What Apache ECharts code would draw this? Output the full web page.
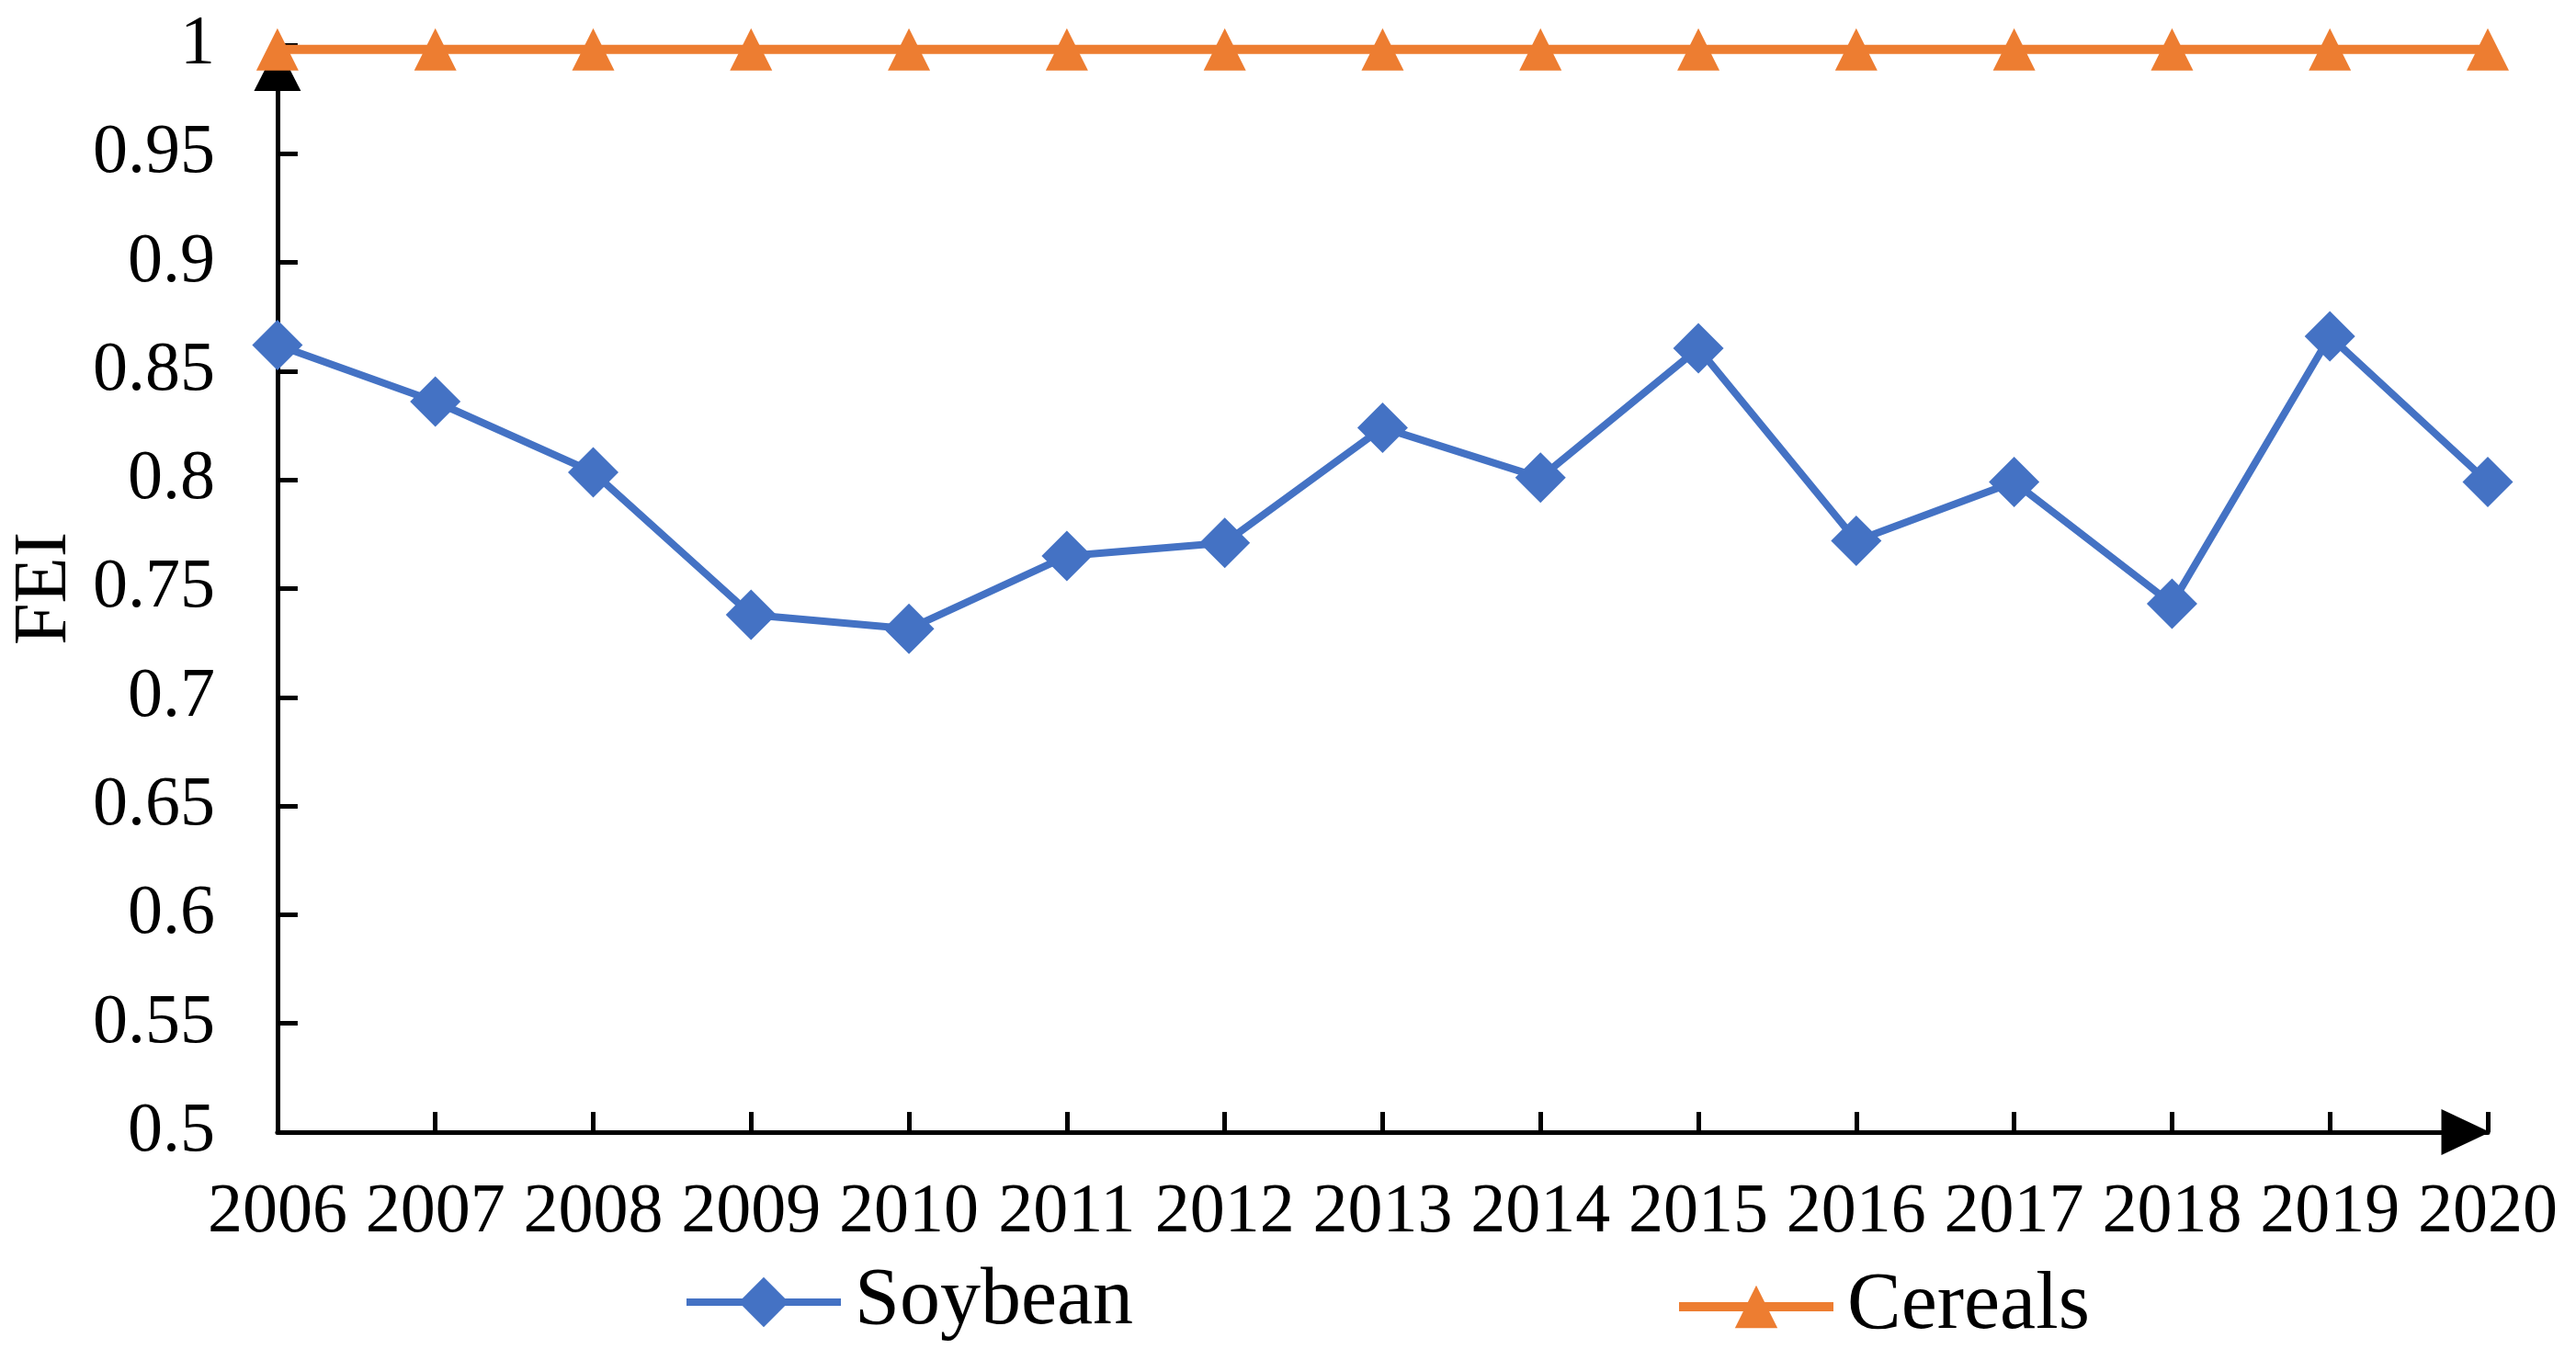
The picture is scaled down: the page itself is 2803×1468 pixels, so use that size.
<!DOCTYPE html>
<html>
<head>
<meta charset="utf-8">
<script src="https://cdn.jsdelivr.net/npm/echarts@6/dist/echarts.min.js"></script>
<style>
html,body{margin:0;padding:0;background:#fff;}
#chart{width:2803px;height:1468px;}
</style>
</head>
<body>
<div id="chart"></div>
<script>
const years = ['2006','2007','2008','2009','2010','2011','2012','2013','2014','2015','2016','2017','2018','2019','2020'];
const soybean = [0.862, 0.836, 0.8035, 0.738, 0.7315, 0.765, 0.771, 0.824, 0.801, 0.8605, 0.772, 0.799, 0.743, 0.866, 0.799];
const cereals = [0.998, 0.998, 0.998, 0.998, 0.998, 0.998, 0.998, 0.998, 0.998, 0.998, 0.998, 0.998, 0.998, 0.998, 0.998];
const seriesNames = ['Soybean', 'Cereals'];
const yMin = 0.5, yMax = 1, yStep = 0.05;
const yTitle = 'FEI';

const FONT = '"Liberation Serif", "Times New Roman", serif';
const chart = echarts.init(document.getElementById('chart'), null, {renderer: 'canvas'});
const axisLine = {
  show: true,
  lineStyle: {color: '#000', width: 5}
};
chart.setOption({
  animation: false,
  backgroundColor: '#fff',
  grid: {left: 287, right: 96, top: 49, bottom: 236, containLabel: false},
  legend: [
    {
      data: [seriesNames[0]],
      left: 738, top: 1368,
      itemWidth: 168, itemHeight: 68,
      lineStyle: {width: 8},
      textStyle: {fontFamily: FONT, fontSize: 88, color: '#000', padding: [0, 0, 0, 10]}
    },
    {
      data: [seriesNames[1]],
      left: 1817, top: 1373,
      itemWidth: 168, itemHeight: 58,
      lineStyle: {width: 10},
      textStyle: {fontFamily: FONT, fontSize: 88, color: '#000', padding: [0, 0, 0, 10]}
    }
  ],
  xAxis: {
    type: 'category',
    data: years,
    boundaryGap: false,
    axisLine: Object.assign({}, axisLine, {symbol: ['none', 'triangle'], symbolSize: [50, 53], symbolOffset: [0, -24]}),
    axisTick: {show: true, inside: true, length: 22, lineStyle: {color: '#000', width: 5}},
    axisLabel: {fontFamily: FONT, fontSize: 76, color: '#000', margin: 50, interval: 0},
    splitLine: {show: false}
  },
  yAxis: {
    type: 'value',
    min: yMin, max: yMax, interval: yStep,
    name: yTitle,
    nameLocation: 'middle',
    nameRotate: 90,
    nameGap: 206,
    nameTextStyle: {fontFamily: FONT, fontSize: 82, color: '#000'},
    axisLine: Object.assign({}, axisLine, {symbol: ['none', 'triangle'], symbolSize: [51, 50], symbolOffset: [0, -25]}),
    axisTick: {show: true, inside: true, length: 22, lineStyle: {color: '#000', width: 5}},
    axisLabel: {fontFamily: FONT, fontSize: 76, color: '#000', margin: 68},
    splitLine: {show: false}
  },
  series: [
    {
      name: seriesNames[0],
      type: 'line',
      data: soybean,
      symbol: 'diamond',
      symbolSize: 55,
      showAllSymbol: true,
      color: '#4472C4',
      lineStyle: {color: '#4472C4', width: 8},
      itemStyle: {color: '#4472C4'},
      z: 3
    },
    {
      name: seriesNames[1],
      type: 'line',
      data: cereals,
      symbol: 'triangle',
      symbolSize: 46,
      showAllSymbol: true,
      color: '#ED7D31',
      lineStyle: {color: '#ED7D31', width: 10},
      itemStyle: {color: '#ED7D31'},
      z: 4
    }
  ]
});
</script>
</body>
</html>
